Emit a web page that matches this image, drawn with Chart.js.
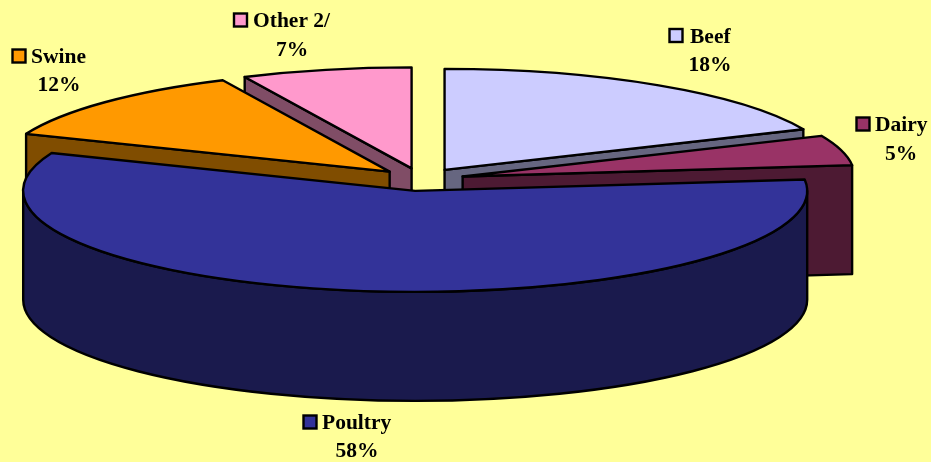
<!DOCTYPE html>
<html>
<head>
<meta charset="utf-8">
<style>html,body{margin:0;padding:0;background:#FFFF99;overflow:hidden}canvas{display:block}</style>
<script src="https://cdn.jsdelivr.net/npm/chart.js@4"></script>
</head>
<body>
<canvas id="c" width="931" height="462"></canvas>
<script>
const categories = ['Beef', 'Dairy', 'Poultry', 'Swine', 'Other 2/'];
const shares = [18.4, 4.8, 57.9, 11.9, 7.0];
const topColors = ['#CCCCFF', '#993366', '#333399', '#FF9900', '#FF99CC'];
const wallColors = ['#666680', '#4D1A33', '#1A1A4D', '#804D00', '#804D66'];
const paintOrder = [4, 0, 3, 1, 2];
const labelBoxes = [
  {sx: 669.5, sy: 29, tx: 690, ty: 43, px: 710, py: 71},
  {sx: 856.5, sy: 117.5, tx: 875, ty: 131, px: 901, py: 160},
  {sx: 303.5, sy: 415.5, tx: 322, ty: 429, px: 357, py: 457},
  {sx: 12.5, sy: 49.5, tx: 31, ty: 63, px: 59, py: 91},
  {sx: 234, sy: 13.5, tx: 253, ty: 27, px: 292, py: 56}
];
const geom = {cx: 421, cy: 179.5, rx: 392, ry: 101, depth: 109, explode: 0.11};

const pie3d = {
  id: 'pie3d',
  beforeDraw(chart) {
    const c = chart.ctx;
    c.save(); c.fillStyle = '#FFFF99'; c.fillRect(0, 0, chart.width, chart.height); c.restore();
  },
  beforeDatasetsDraw(chart) {
    const c = chart.ctx, arcs = chart.getDatasetMeta(0).data, g = geom, d = g.depth;
    c.save();
    c.lineWidth = 2.4; c.strokeStyle = '#000'; c.lineJoin = 'round';
    for (const i of paintOrder) {
      const a = arcs[i], t0 = a.startAngle, t1 = a.endAngle, mid = (t0 + t1) / 2;
      const x = g.cx + g.explode * g.rx * Math.cos(mid), y = g.cy + g.explode * 104 * Math.sin(mid);
      const rim = t => [x + g.rx * Math.cos(t), y + g.ry * Math.sin(t)];
      const face = t => {
        const p = rim(t);
        c.beginPath(); c.moveTo(x, y); c.lineTo(p[0], p[1]); c.lineTo(p[0], p[1] + d); c.lineTo(x, y + d); c.closePath();
        c.fillStyle = wallColors[i]; c.fill(); c.stroke();
      };
      // cut faces turned towards the viewer
      if (Math.sin(t0 + Math.PI / 2) < -0.001) face(t0);
      if (Math.sin(t1 + Math.PI / 2) > 0.001) face(t1);
      // outer wall (front half of the rim only)
      const w0 = Math.max(t0, 0), w1 = Math.min(t1, Math.PI);
      if (w1 > w0) {
        c.beginPath();
        c.ellipse(x, y, g.rx, g.ry, 0, w0, w1);
        c.ellipse(x, y + d, g.rx, g.ry, 0, w1, w0, true);
        c.closePath();
        c.fillStyle = wallColors[i]; c.fill(); c.stroke();
      }
      // top surface: the library's own arc element under a squash transform
      const R = a.outerRadius;
      c.save();
      c.translate(x, y); c.scale(g.rx / R, g.ry / R); c.translate(-a.x, -a.y);
      a.draw(c);
      c.restore();
      c.beginPath(); c.moveTo(x, y); c.ellipse(x, y, g.rx, g.ry, 0, t0, t1); c.closePath(); c.stroke();
    }
    c.restore();
    return false;
  },
  afterDraw(chart) {
    const c = chart.ctx;
    c.save();
    c.font = 'bold 21.5px "Liberation Serif"';
    c.textBaseline = 'alphabetic';
    categories.forEach((name, i) => {
      const b = labelBoxes[i];
      c.fillStyle = topColors[i]; c.fillRect(b.sx, b.sy, 13, 13);
      c.strokeStyle = '#000'; c.lineWidth = 2.4; c.strokeRect(b.sx, b.sy, 13, 13);
      c.fillStyle = '#000';
      c.textAlign = 'left'; c.fillText(name, b.tx, b.ty);
      c.textAlign = 'center'; c.fillText(Math.round(shares[i]) + '%', b.px, b.py);
    });
    c.restore();
  }
};

new Chart(document.getElementById('c'), {
  type: 'pie',
  data: {labels: categories, datasets: [{data: shares, backgroundColor: topColors, borderWidth: 0, offset: 0}]},
  options: {
    responsive: false, animation: false,
    layout: {padding: 0},
    plugins: {legend: {display: false}, tooltip: {enabled: false}}
  },
  plugins: [pie3d]
});
</script>
</body>
</html>
